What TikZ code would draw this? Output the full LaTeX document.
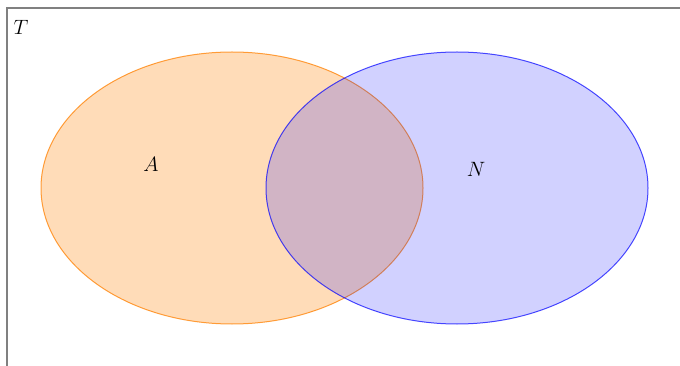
\documentclass[tikz,border=0pt]{standalone}
\begin{document}
\begin{tikzpicture}[x=1pt,y=-1pt,
  setA/.style={draw=orange, draw opacity=0.75, fill=orange, fill opacity=0.28, line width=1pt},
  setN/.style={draw=blue, draw opacity=0.7, fill=blue, fill opacity=0.18, line width=1pt},
  lbl/.style={font=\fontsize{20}{24}\selectfont, inner sep=0pt},
  frame/.style={draw=gray, line width=1.2pt}]
\useasboundingbox (0,0) rectangle (680,366);
\clip (0,0) rectangle (680,366);
\draw[frame] (7,380) -- (7,8) -- (700,8);
\node[lbl] (T) at (21,27) {$T$};
\path[setA] (232,188) ellipse [x radius=191, y radius=136];
\path[setN] (457,188) ellipse [x radius=191, y radius=136];
\node[lbl] (A) at (151,164) {$A$};
\node[lbl] (N) at (476,169) {$N$};
\end{tikzpicture}
\end{document}
